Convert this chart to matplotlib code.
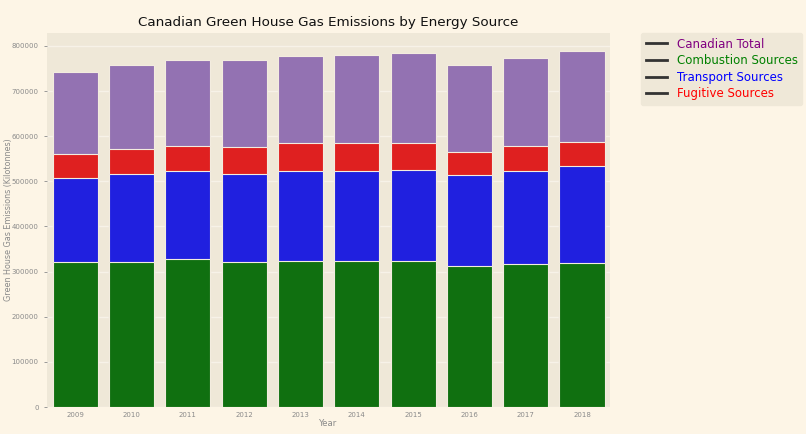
import matplotlib
matplotlib.use("Agg")
import matplotlib.pyplot as plt
from matplotlib.lines import Line2D
import numpy as np

years = ["2009", "2010", "2011", "2012", "2013", "2014", "2015", "2016", "2017", "2018"]
canadian_total = [743000, 758000, 768400, 769700, 778600, 779400, 784500, 758700, 772800, 789000]
fugitive_top = [561100, 571500, 578200, 576000, 584000, 586100, 585500, 564900, 578800, 588300]
transport_top = [506500, 516200, 522900, 516200, 522900, 522900, 525700, 513100, 523500, 533000]
combustion_top = [320700, 322300, 328200, 321600, 322900, 324500, 324500, 312700, 317200, 319400]

legend_labels = ["Canadian Total", "Combustion Sources", "Transport Sources", "Fugitive Sources"]
legend_colors = ["purple", "green", "blue", "red"]

fig_bg = "#fdf5e6"
ax_bg = "#efe8d8"
tick_col = "#8a8a8a"

fig = plt.figure(figsize=(8.06, 4.34), dpi=100, facecolor=fig_bg)
ax = fig.add_axes([0.0583, 0.0622, 0.6987, 0.862])
ax.set_facecolor(ax_bg)

x = np.arange(len(years))
w = 0.8
layers = [
    (canadian_total, "#9372b2"),
    (fugitive_top, "#df2020"),
    (transport_top, "#2020df"),
    (combustion_top, "#107010"),
]
for vals, col in layers:
    ax.bar(x, vals, width=w, color=col, edgecolor="#f3ecdf", linewidth=0.8, zorder=2)

ax.set_xlim(-0.5, len(years) - 0.5)
ax.set_ylim(0, 829000)
ax.set_yticks(np.arange(0, 800001, 100000))
ax.set_yticklabels([str(v) for v in range(0, 800001, 100000)])
ax.set_xticks(x)
ax.set_xticklabels(years)
ax.grid(axis="y", color="#f7f2e8", linewidth=1.0, zorder=0)
ax.set_axisbelow(True)
for s in ax.spines.values():
    s.set_visible(False)
ax.tick_params(axis="both", colors=tick_col, labelsize=5.0, length=2.5, width=0.6)
ax.tick_params(axis="x", length=0)
ax.set_xlabel("Year", fontsize=6.2, color=tick_col, labelpad=1)
ax.set_ylabel("Green House Gas Emissions (Kilotonnes)", fontsize=5.8, color=tick_col)
ax.yaxis.set_label_coords(-0.061, 0.5)
ax.set_title("Canadian Green House Gas Emissions by Energy Source", fontsize=9.7, color="#111111", pad=5)

handles = [Line2D([0], [0], color="#333333", linewidth=2) for _ in legend_labels]
leg = ax.legend(handles, legend_labels, loc="upper left", bbox_to_anchor=(1.055, 1.0),
                fontsize=8.5, frameon=True, facecolor=ax_bg, edgecolor=ax_bg,
                handlelength=1.8, labelspacing=0.3, borderaxespad=0.0)
for t, c in zip(leg.get_texts(), legend_colors):
    t.set_color(c)
leg.get_frame().set_alpha(1)

fig.savefig("out.png", dpi=100, facecolor=fig_bg)
